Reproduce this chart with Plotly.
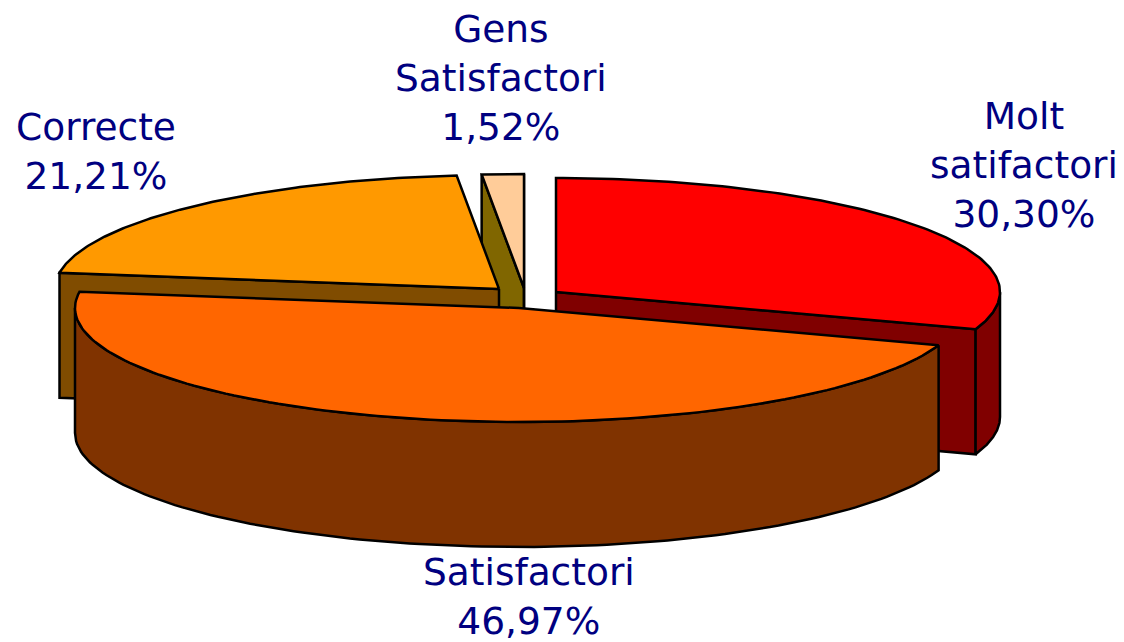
import numpy as np
import plotly.graph_objects as go

categories = ["Molt<br>satifactori", "Satisfactori", "Correcte", "Gens<br>Satisfactori"]
shares = [30.30, 46.97, 21.21, 1.52]

top_colors = ["#FF0000", "#FF6600", "#FF9900", "#FFCC99"]
side_colors = ["#800000", "#803300", "#804C00", "#806600"]
apex_x = [556, 519, 499, 524]
apex_y = [292, 308, 289, 288]
label_x = [1024, 529, 96, 501]
label_y = [165, 596, 151, 78]

RX, RY, DEPTH = 444, 114, 125
W, H = 1124, 642

ends = np.cumsum(shares) * 3.6
starts = ends - np.array(shares) * 3.6


def rim(cx, cy, t0, t1, n=120):
    t = np.radians(np.linspace(t0, t1, n))
    return cx + RX * np.sin(t), cy - RY * np.cos(t)


fig = go.Figure()


def poly(x, y, color, width=2.5):
    fig.add_trace(go.Scatter(
        x=np.append(x, x[0]), y=np.append(y, y[0]), mode="lines", fill="toself",
        fillcolor=color, line=dict(color="black", width=width), hoverinfo="skip",
        showlegend=False,
    ))


def wall(px, py, color):
    """Vertical wall hanging under the polyline (px, py)."""
    px, py = np.asarray(px, float), np.asarray(py, float)
    poly(np.r_[px, px[::-1]], np.r_[py, py[::-1] + DEPTH], color)


def radial(i, t):
    cx, cy = apex_x[i], apex_y[i]
    ex, ey = rim(cx, cy, t, t, 1)
    wall([cx, ex[0]], [cy, ey[0]], side_colors[i])


def top(i):
    cx, cy = apex_x[i], apex_y[i]
    ax, ay = rim(cx, cy, starts[i], ends[i])
    poly(np.r_[cx, ax], np.r_[cy, ay], top_colors[i])


# painter's order: far slices first
radial(3, starts[3])
wall([apex_x[3], apex_x[3]], [apex_y[3] - RY, apex_y[3]], side_colors[3])
top(3)

radial(2, starts[2])
top(2)

radial(0, ends[0])
wall(*rim(apex_x[0], apex_y[0], 90, ends[0]), side_colors[0])
top(0)

wall(*rim(apex_x[1], apex_y[1], starts[1], 270), side_colors[1])
top(1)

for name, v, x, y in zip(categories, shares, label_x, label_y):
    fig.add_annotation(
        x=x, y=y, xref="x", yref="y", showarrow=False, align="center",
        text=f"{name}<br>{v:.2f}%".replace(".", ","),
        font=dict(family="DejaVu Sans", size=37.5, color="#000080"),
    )

fig.update_layout(
    width=W, height=H, margin=dict(l=0, r=0, t=0, b=0),
    paper_bgcolor="white", plot_bgcolor="white", showlegend=False,
    xaxis=dict(range=[0, W], visible=False, fixedrange=True),
    yaxis=dict(range=[H, 0], visible=False, fixedrange=True),
)
fig.write_html(
    "out.html",
    config=dict(displayModeBar=False),
    post_script="document.body.style.margin='0';document.documentElement.style.overflow='hidden';",
)
